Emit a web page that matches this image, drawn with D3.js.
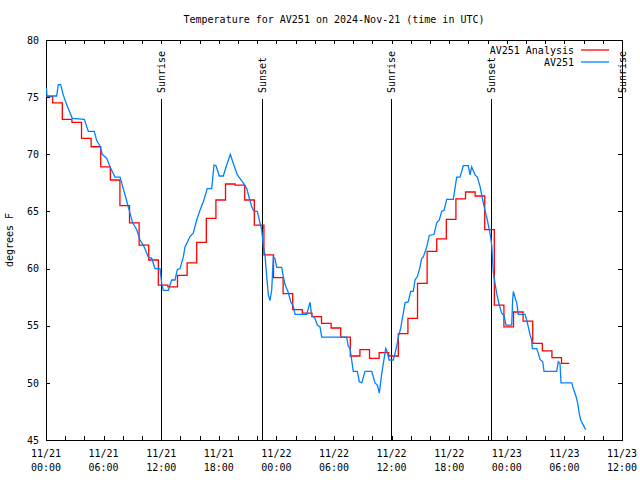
<!DOCTYPE html>
<html><head><meta charset="utf-8">
<script src="https://cdn.jsdelivr.net/npm/d3@7"></script>
<style>
body{margin:0;background:#fff}
text{font-family:"DejaVu Sans Mono",monospace;font-size:10px;fill:#000}
</style>
</head><body>
<svg id="c" width="640" height="480"></svg>
<script>
const title = "Temperature for AV251 on 2024-Nov-21 (time in UTC)";
const yLabel = "degrees F";
const yTicks = [45, 50, 55, 60, 65, 70, 75, 80];
const xLabelHours = [0, 6, 12, 18, 24, 30, 36, 42, 48, 54, 60];
const xLabelDates = ["11/21","11/21","11/21","11/21","11/22","11/22","11/22","11/22","11/23","11/23","11/23"];
const xLabelTimes = ["00:00","06:00","12:00","18:00","00:00","06:00","12:00","18:00","00:00","06:00","12:00"];
const seriesNames = ["AV251 Analysis", "AV251"];

// observed AV251 (hours since 2024-11-21 00:00 UTC)
const obsHours = [0.05,0.10,1.11,1.28,1.53,1.80,2.08,2.32,2.74,3.99,4.41,5.03,5.28,5.63,5.86,6.32,6.67,7.19,7.71,8.05,8.33,8.57,9.03,9.45,9.79,10.14,10.66,11.01,11.35,11.88,12.05,12.22,12.74,13.09,13.44,13.68,13.96,14.30,14.48,15.00,15.34,15.70,16.04,16.39,16.80,17.26,17.50,17.71,18.05,18.47,18.82,19.20,19.51,19.93,20.55,20.91,21.18,21.43,21.67,22.01,22.29,22.47,22.64,22.81,22.99,23.16,23.33,23.51,23.68,23.85,24.03,24.55,24.72,24.90,25.24,25.49,25.76,25.94,27.16,27.32,27.50,27.68,28.02,28.26,28.54,28.72,31.32,31.49,31.67,31.84,32.01,32.43,32.64,32.89,33.23,33.93,34.27,34.51,34.72,34.97,35.14,35.39,35.55,35.73,36.18,36.53,36.70,36.95,37.22,37.40,37.74,37.99,38.26,38.44,38.68,38.89,39.14,39.30,39.66,39.93,40.42,40.70,40.97,41.22,41.46,41.74,42.43,42.78,43.13,43.47,43.99,44.17,44.34,44.69,44.93,45.21,45.49,45.73,45.97,46.25,46.43,46.59,46.77,46.95,47.22,47.47,47.71,47.92,48.51,48.61,48.68,48.85,49.03,49.20,49.90,50.07,50.24,50.42,50.59,50.66,51.11,51.28,51.46,51.74,51.88,53.20,53.36,53.54,53.65,54.76,54.93,55.18,55.39,55.55,55.70,55.97,56.22];
const obsTemps = [75.8,75.1,75.1,76.1,76.1,75.2,74.5,74.0,73.15,73.06,72.0,72.0,71.2,70.7,70.0,69.65,68.9,68.0,68.0,67.0,66.15,65.4,64.0,63.4,62.5,62.06,61.0,60.9,60.0,60.0,58.7,58.1,58.1,59.0,59.0,59.9,60.0,61.0,61.9,62.8,63.1,64.25,65.1,65.85,67.0,67.0,69.06,69.0,68.1,68.1,69.06,70.0,69.2,68.2,67.5,67.0,66.15,65.4,65.0,65.0,64.0,63.4,61.9,61.2,59.3,57.7,57.2,58.1,61.0,60.9,60.1,60.1,59.3,58.6,57.9,57.1,56.7,56.0,56.0,56.5,57.05,55.9,55.65,55.06,54.9,54.0,54.0,53.2,53.0,52.0,51.0,51.0,50.1,50.0,51.0,51.0,50.0,49.8,49.1,50.8,51.7,53.0,52.7,52.0,52.0,53.2,54.0,54.8,56.1,57.0,57.1,58.0,58.0,59.0,59.3,59.9,60.9,61.0,61.9,62.9,63.0,64.0,64.25,65.0,65.1,66.06,66.06,68.0,68.0,69.0,69.0,68.2,68.9,68.2,68.0,67.2,66.0,65.1,64.25,63.1,62.06,59.7,58.7,57.8,56.8,56.1,55.9,55.06,55.06,57.25,58.0,57.5,57.0,56.0,56.0,55.5,54.9,54.2,53.75,53.0,53.0,52.6,52.05,51.85,51.0,51.0,51.85,51.7,50.0,50.0,49.5,48.9,48.2,47.3,46.75,46.3,45.9];

// analysis (hourly steps)
const anaHours = [0,0.7,1.7,2.7,3.7,4.7,5.7,6.7,7.7,8.7,9.7,10.7,11.7,12.7,13.7,14.7,15.7,16.7,17.7,18.7,19.7,20.7,21.7,22.7,23.7,24.7,25.7,26.7,27.7,28.7,29.7,30.7,31.7,32.7,33.7,34.7,35.7,36.7,37.7,38.7,39.7,40.7,41.7,42.7,43.7,44.7,45.7,46.7,47.7,48.7,49.7,50.7,51.7,52.7,53.7,54.5];
const anaTemps = [75.04,74.5,73.06,72.8,71.4,70.66,68.9,67.75,65.5,64.0,62.06,60.75,58.56,58.4,59.4,60.5,62.3,64.4,66.0,67.4,67.3,66.0,63.8,61.2,59.2,57.8,56.4,56.1,55.8,55.2,54.8,54.0,52.35,52.9,52.15,52.65,52.35,54.3,55.65,58.7,61.5,62.6,64.3,66.1,66.7,66.35,63.4,56.8,54.9,56.2,55.4,53.46,52.8,52.2,51.7,51.7];

const sunNames = ["Sunrise","Sunset","Sunrise","Sunset","Sunrise"];
const sunHours = [12.0, 22.5, 35.95, 46.35, 60.0];

const t0 = Date.UTC(2024, 10, 21, 0, 0);
const toDate = h => new Date(t0 + h * 3600e3);

const L = 46, R = 622, T = 40, B = 440;
const svg = d3.select("#c");
const x = d3.scaleUtc().domain([toDate(0), toDate(60)]).range([L, R]);
const y = d3.scaleLinear().domain([45, 80]).range([B, T]);

// ticks every 2 hours
const tickDates = d3.utcHour.every(2).range(toDate(0), toDate(60.01));

const crisp = g => g.attr("shape-rendering", "crispEdges");
svg.append("g").attr("transform", `translate(0,${B})`)
  .call(d3.axisBottom(x).tickValues(tickDates).tickSize(-4).tickFormat(""))
  .call(g => g.select(".domain").remove()).call(crisp);
svg.append("g").attr("transform", `translate(0,${T})`)
  .call(d3.axisTop(x).tickValues(tickDates).tickSize(-4).tickFormat(""))
  .call(g => g.select(".domain").remove()).call(crisp);
svg.append("g").attr("transform", `translate(${L},0)`)
  .call(d3.axisLeft(y).tickValues(yTicks).tickSize(-4).tickPadding(7).tickFormat(d3.format("d")))
  .call(g => g.select(".domain").remove()).call(crisp)
  .call(g => g.selectAll("text").style("font-family", '"DejaVu Sans Mono",monospace').style("font-size", "10px").attr("fill", "#000"));
svg.append("g").attr("transform", `translate(${R},0)`)
  .call(d3.axisRight(y).tickValues(yTicks).tickSize(-4).tickFormat(""))
  .call(g => g.select(".domain").remove()).call(crisp);

// x labels
const xl = svg.append("g");
xLabelHours.forEach((h, i) => {
  const t = xl.append("text").attr("x", x(toDate(h))).attr("text-anchor", "middle");
  t.append("tspan").attr("x", x(toDate(h))).attr("y", 457).text(xLabelDates[i]);
  t.append("tspan").attr("x", x(toDate(h))).attr("y", 471).text(xLabelTimes[i]);
});

// frame
svg.append("rect").attr("x", L).attr("y", T).attr("width", R - L).attr("height", B - T)
  .attr("fill", "none").attr("stroke", "#000").attr("stroke-width", 1).attr("shape-rendering", "crispEdges");

// title & y label
svg.append("text").attr("x", (L + R) / 2).attr("y", 23).attr("text-anchor", "middle").text(title);
svg.append("text").attr("transform", `translate(13,${(T + B) / 2}) rotate(-90)`).attr("text-anchor", "middle").text(yLabel);

// sunrise / sunset
const sun = svg.append("g");
sunHours.forEach((h, i) => {
  const sx = Math.round(x(toDate(h))) ;
  sun.append("line").attr("x1", sx).attr("x2", sx).attr("y1", 99).attr("y2", B)
    .attr("stroke", "#000").attr("stroke-width", 1).attr("shape-rendering", "crispEdges");
  sun.append("text").attr("transform", `translate(${sx + 3.5},93) rotate(-90)`).attr("text-anchor", "start").text(sunNames[i]);
});

// series
const clip = svg.append("clipPath").attr("id", "pc").append("rect").attr("x", L).attr("y", T).attr("width", R - L).attr("height", B - T);
const anaData = anaHours.map((h, i) => [toDate(h), anaTemps[i]]);
const obsData = obsHours.map((h, i) => [toDate(h), obsTemps[i]]);
svg.append("path").datum(anaData)
  .attr("d", d3.line().x(d => x(d[0])).y(d => y(d[1])).curve(d3.curveStepAfter))
  .attr("fill", "none").attr("stroke", "#ff0000").attr("stroke-width", 1.3).attr("clip-path", "url(#pc)");
svg.append("path").datum(obsData)
  .attr("d", d3.line().x(d => x(d[0])).y(d => y(d[1])))
  .attr("fill", "none").attr("stroke", "#0080ff").attr("stroke-width", 1.3).attr("clip-path", "url(#pc)");

// legend
const lg = svg.append("g");
const legendColors = ["#ff0000", "#0080ff"];
seriesNames.forEach((n, i) => {
  const ly = 50 + i * 12;
  lg.append("text").attr("x", 574).attr("y", ly).attr("dy", "0.35em").attr("text-anchor", "end").text(n);
  lg.append("line").attr("x1", 581).attr("x2", 609).attr("y1", ly).attr("y2", ly)
    .attr("stroke", legendColors[i]).attr("stroke-width", 1.3);
});
</script>
</body></html>
